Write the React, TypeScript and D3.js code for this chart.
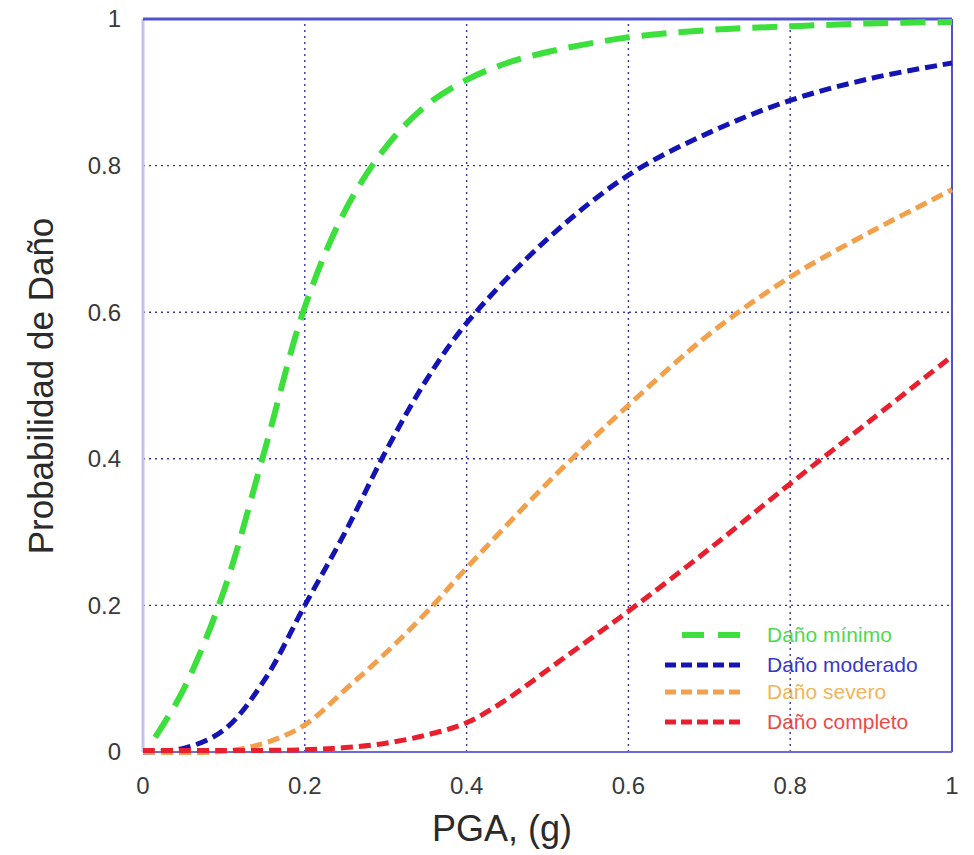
import React from 'react'
import * as d3 from 'd3'

// curvas de fragilidad
const minimoPga = [0.015, 0.05, 0.1, 0.15, 0.2, 0.25, 0.3, 0.35, 0.4, 0.45, 0.5, 0.6, 0.7, 0.8, 0.9, 1.0]
const minimoProb = [0.02, 0.085, 0.22, 0.41, 0.607, 0.739, 0.825, 0.882, 0.917, 0.94, 0.955, 0.975, 0.985, 0.99, 0.994, 0.996]

const moderadoPga = [0, 0.05, 0.1, 0.15, 0.2, 0.25, 0.3, 0.35, 0.4, 0.5, 0.6, 0.7, 0.8, 0.9, 1.0]
const moderadoProb = [0, 0.005, 0.03, 0.098, 0.2, 0.3, 0.41, 0.507, 0.585, 0.7, 0.787, 0.845, 0.889, 0.919, 0.94]

const severoPga = [0, 0.1, 0.15, 0.2, 0.25, 0.3, 0.35, 0.4, 0.5, 0.6, 0.7, 0.8, 0.9, 1.0]
const severoProb = [0, 0.001, 0.012, 0.037, 0.085, 0.135, 0.19, 0.251, 0.367, 0.473, 0.57, 0.648, 0.71, 0.767]

const completoPga = [0, 0.1, 0.2, 0.25, 0.3, 0.35, 0.4, 0.45, 0.5, 0.55, 0.6, 0.7, 0.8, 0.9, 1.0]
const completoProb = [0.002, 0.002, 0.003, 0.006, 0.012, 0.023, 0.04, 0.072, 0.112, 0.152, 0.192, 0.277, 0.366, 0.453, 0.54]

const ticks = [0, 0.2, 0.4, 0.6, 0.8, 1]
const tickLabels = ['0', '0.2', '0.4', '0.6', '0.8', '1']

const series = [
  { name: 'Daño mínimo', xs: minimoPga, ys: minimoProb, color: '#3ddf3d', text: '#4fd84f', width: 6, dash: '25 12' },
  { name: 'Daño moderado', xs: moderadoPga, ys: moderadoProb, color: '#1414b4', text: '#3838c8', width: 5, dash: '12 6' },
  { name: 'Daño severo', xs: severoPga, ys: severoProb, color: '#f2a04a', text: '#f2b45a', width: 5, dash: '12 6' },
  { name: 'Daño completo', xs: completoPga, ys: completoProb, color: '#e8202e', text: '#ec4a4a', width: 5, dash: '12 6' },
]

const App = () => {
  const width = 974
  const height = 855
  const x = d3.scaleLinear().domain([0, 1]).range([143, 952])
  const y = d3.scaleLinear().domain([0, 1]).range([752, 19])

  const line = d3
    .line<[number, number]>()
    .x((d) => x(d[0]))
    .y((d) => y(d[1]))
    .curve(d3.curveCatmullRom.alpha(0.5))

  const font = '"Liberation Sans", Arial, sans-serif'
  const legendY = [635, 665, 692, 722]

  return (
    <svg
      width={width}
      height={height}
      style={{ position: 'absolute', left: 0, top: 0, background: '#fff' }}
      fontFamily={font}
    >
      {/* grid */}
      <g stroke='#3434b4' strokeWidth={1.4} strokeDasharray='2 4'>
        {ticks.slice(1, -1).map((t) => (
          <line key={'gx' + t} x1={x(t)} x2={x(t)} y1={y(0)} y2={y(1)} />
        ))}
        {ticks.slice(1, -1).map((t) => (
          <line key={'gy' + t} x1={x(0)} x2={x(1)} y1={y(t)} y2={y(t)} />
        ))}
      </g>

      {/* frame */}
      <line x1={x(0)} x2={x(0)} y1={y(0)} y2={y(1)} stroke='#c2c2f2' strokeWidth={3} />
      <line x1={x(0)} x2={x(1)} y1={y(1)} y2={y(1)} stroke='#5252cf' strokeWidth={3} />
      <line x1={x(1)} x2={x(1)} y1={y(0)} y2={y(1)} stroke='#5252cf' strokeWidth={2} />
      <line x1={x(0)} x2={x(1)} y1={y(0)} y2={y(0)} stroke='#6a6ad8' strokeWidth={2} />

      {/* curves */}
      {series.map((s) => (
        <path
          key={s.name}
          d={line(s.xs.map((v, i) => [v, s.ys[i]] as [number, number])) || ''}
          fill='none'
          stroke={s.color}
          strokeWidth={s.width}
          strokeDasharray={s.dash}
        />
      ))}

      {/* tick labels */}
      <g fill='#3a3a3a' fontSize={24}>
        {ticks.map((t, i) => (
          <text key={'tx' + t} x={x(t)} y={794} textAnchor='middle'>
            {tickLabels[i]}
          </text>
        ))}
        {ticks.map((t, i) => (
          <text key={'ty' + t} x={121} y={y(t)} dy='0.35em' textAnchor='end'>
            {tickLabels[i]}
          </text>
        ))}
      </g>

      {/* axis titles */}
      <text x={502} y={841} textAnchor='middle' fontSize={36} fill='#2a2a2a'>
        PGA, (g)
      </text>
      <text
        transform='translate(53,386) rotate(-90)'
        textAnchor='middle'
        fontSize={35}
        fill='#2a2a2a'
      >
        Probabilidad de Daño
      </text>

      {/* legend */}
      {series.map((s, i) => (
        <g key={'lg' + s.name}>
          <line
            x1={i === 0 ? 682 : 665}
            x2={740}
            y1={legendY[i]}
            y2={legendY[i]}
            stroke={s.color}
            strokeWidth={s.width}
            strokeDasharray={i === 0 ? '22 14' : '11 5'}
          />
          <text x={767} y={legendY[i]} dy='0.35em' fontSize={21} fill={s.text}>
            {s.name}
          </text>
        </g>
      ))}
    </svg>
  )
}

export default App
